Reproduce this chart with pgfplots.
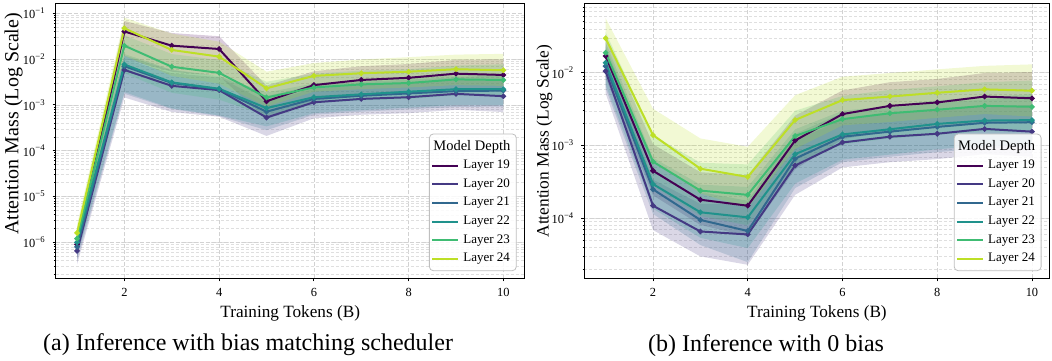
\documentclass[border=0pt]{standalone}
\usepackage{pgfplots}
\pgfplotsset{compat=1.18}
\usepackage{fontspec}
\setmainfont{Liberation Serif}

\definecolor{c19}{HTML}{440154}
\definecolor{c20}{HTML}{443983}
\definecolor{c21}{HTML}{31688E}
\definecolor{c22}{HTML}{20928C}
\definecolor{c23}{HTML}{3FBC73}
\definecolor{c24}{HTML}{BDDF26}

\pgfplotsset{
  legend image code/.code={\draw[#1, mark=none, line width=1pt] (0pt,0pt) -- (13pt,0pt);},
  band/.style={fill=#1, fill opacity=0.2, draw=none, forget plot},
  ser/.style={color=#1, line width=1pt, mark=*, mark size=0.8pt},
  every axis/.append style={
    scale only axis, height=137.2pt,
    xmin=0.55,
    xtick={2,4,6,8,10},
    grid=both,
    major grid style={gray!35, line width=0.3pt, dash pattern=on 2pt off 1pt},
    minor grid style={gray!25, line width=0.25pt, dash pattern=on 1.5pt off 1pt},
    tick align=outside, tick pos=left,
    major tick length=1.5pt, minor tick length=0.9pt,
    tick style={black, line width=0.4pt},
    axis line style={line width=0.6pt},
    /pgf/number format/assume math mode=true,
    ticklabel style={font=\fontsize{6.2}{7}\selectfont},
    xlabel={Training Tokens (B)},
    ylabel={Attention Mass (Log Scale)},
    xlabel style={font=\fontsize{8.6}{9.5}\selectfont, yshift=2.5pt},
    legend style={at={(rel axis cs:1,0)}, anchor=south east, xshift=-4pt, yshift=3.6pt,
      font=\fontsize{6.5}{7.5}\selectfont, draw=gray!50, rounded corners=2pt,
      fill=white, fill opacity=0.85, text opacity=1, draw opacity=1,
      row sep=-0.5pt, inner sep=1pt, cells={anchor=west}},
  },
}

\begin{document}
\begin{tikzpicture}
\useasboundingbox (-27.85pt,-40.85pt) rectangle (498.15pt,139.15pt);
% ================= (a) =================
\begin{axis}[ymode=log, log basis y=10, width=234.5pt, xmax=10.45, ymin=1.64e-7, ymax=0.16,
  ylabel style={font=\fontsize{10}{11}\selectfont, at={(axis description cs:-0.09,0.563)}, anchor=center},
  yticklabel={10\textsuperscript{−\pgfmathparse{int(round(-\tick))}\pgfmathresult}}]
  % bands (upper edge forward, lower edge back)
  \addplot[band=c19] coordinates {(1,1.35e-6) (2,6.8e-2) (3,3.7e-2) (4,3.15e-2) (5,2.64e-3) (6,5.4e-3) (7,7.0e-3) (8,7.8e-3) (9,9.6e-3) (10,9.9e-3)
    (10,2.03e-3) (9,2.16e-3) (8,1.76e-3) (7,1.58e-3) (6,1.22e-3) (5,4.8e-4) (4,4.3e-3) (3,5.3e-3) (2,1.0e-2) (1,4.5e-7)};
  \addplot[band=c20] coordinates {(1,9.8e-7) (2,9.9e-3) (3,4.9e-3) (4,4.0e-3) (5,1.17e-3) (6,2.28e-3) (7,2.7e-3) (8,2.94e-3) (9,3.48e-3) (10,3.4e-3)
    (10,7.0e-4) (9,7.8e-4) (8,6.6e-4) (7,6.1e-4) (6,5.1e-4) (5,2.1e-4) (4,5.5e-4) (3,7.0e-4) (2,1.45e-3) (1,3.3e-7)};
  \addplot[band=c21] coordinates {(1,1.2e-6) (2,1.19e-2) (3,5.7e-3) (4,4.2e-3) (5,1.56e-3) (6,2.7e-3) (7,3.16e-3) (8,3.56e-3) (9,4.0e-3) (10,4.5e-3)
    (10,9.2e-4) (9,9.0e-4) (8,8.0e-4) (7,7.1e-4) (6,6.1e-4) (5,2.8e-4) (4,5.7e-4) (3,8.1e-4) (2,1.75e-3) (1,4.0e-7)};
  \addplot[band=c22] coordinates {(1,1.5e-6) (2,1.29e-2) (3,5.9e-3) (4,4.3e-3) (5,1.87e-3) (6,2.94e-3) (7,3.4e-3) (8,3.88e-3) (9,4.4e-3) (10,4.8e-3)
    (10,9.9e-4) (9,9.9e-4) (8,8.7e-4) (7,7.7e-4) (6,6.6e-4) (5,3.4e-4) (4,5.9e-4) (3,8.4e-4) (2,1.9e-3) (1,5.0e-7)};
  \addplot[band=c23] coordinates {(1,1.8e-6) (2,3.3e-2) (3,1.29e-2) (4,9.5e-3) (5,3.2e-3) (6,4.8e-3) (7,5.6e-3) (8,6.0e-3) (9,7.2e-3) (10,7.7e-3)
    (10,1.58e-3) (9,1.62e-3) (8,1.35e-3) (7,1.26e-3) (6,1.08e-3) (5,5.8e-4) (4,1.3e-3) (3,1.84e-3) (2,4.9e-3) (1,6.0e-7)};
  \addplot[band=c24] coordinates {(1,2.4e-6) (2,8.0e-2) (3,3.6e-2) (4,2.4e-2) (5,5.3e-3) (6,8.2e-3) (7,9.8e-3) (8,1.1e-2) (9,1.25e-2) (10,1.3e-2)
    (10,2.6e-3) (9,2.7e-3) (8,2.4e-3) (7,2.2e-3) (6,1.94e-3) (5,9.2e-4) (4,2.9e-3) (3,4.3e-3) (2,1.18e-2) (1,8.0e-7)};
  \addlegendimage{empty legend}
  \addlegendentry{\hspace*{-15pt}{\fontsize{7.25}{8}\selectfont Model Depth}}
  \addplot[ser=c19] coordinates {(1,9.0e-7) (2,4.0e-2) (3,1.96e-2) (4,1.66e-2) (5,1.2e-3) (6,2.7e-3) (7,3.5e-3) (8,3.9e-3) (9,4.8e-3) (10,4.5e-3)};
  \addlegendentry{Layer 19}
  \addplot[ser=c20] coordinates {(1,6.5e-7) (2,5.8e-3) (3,2.6e-3) (4,2.1e-3) (5,5.3e-4) (6,1.14e-3) (7,1.35e-3) (8,1.47e-3) (9,1.74e-3) (10,1.55e-3)};
  \addlegendentry{Layer 20}
  \addplot[ser=c21] coordinates {(1,8.0e-7) (2,7.0e-3) (3,3.0e-3) (4,2.2e-3) (5,7.1e-4) (6,1.35e-3) (7,1.58e-3) (8,1.78e-3) (9,2.0e-3) (10,2.05e-3)};
  \addlegendentry{Layer 21}
  \addplot[ser=c22] coordinates {(1,1.0e-6) (2,7.6e-3) (3,3.1e-3) (4,2.25e-3) (5,8.5e-4) (6,1.47e-3) (7,1.7e-3) (8,1.94e-3) (9,2.2e-3) (10,2.2e-3)};
  \addlegendentry{Layer 22}
  \addplot[ser=c23] coordinates {(1,1.2e-6) (2,1.96e-2) (3,6.8e-3) (4,5.0e-3) (5,1.45e-3) (6,2.4e-3) (7,2.8e-3) (8,3.0e-3) (9,3.6e-3) (10,3.5e-3)};
  \addlegendentry{Layer 23}
  \addplot[ser=c24] coordinates {(1,1.6e-6) (2,4.7e-2) (3,1.58e-2) (4,1.13e-2) (5,2.3e-3) (6,4.3e-3) (7,4.9e-3) (8,5.3e-3) (9,6.0e-3) (10,5.7e-3)};
  \addlegendentry{Layer 24}
\end{axis}
% ================= (b) =================
\begin{axis}[ymode=log, log basis y=10, at={(264.3pt,0pt)}, width=232.6pt, xmax=10.37, ymin=1.5e-5, ymax=0.088,
  ylabel style={font=\fontsize{8.7}{9.5}\selectfont, at={(axis description cs:-0.0856,0.5)}, anchor=center},
  yticklabel={10\textsuperscript{−\pgfmathparse{int(round(-\tick))}\pgfmathresult}}]
  \addplot[band=c19] coordinates {(1,3.2e-2) (2,1.04e-3) (3,4.3e-4) (4,3.9e-4) (5,2.57e-3) (6,5.7e-3) (7,7.4e-3) (8,8.2e-3) (9,9.9e-3) (10,1.02e-2)
    (10,2.0e-3) (9,2.1e-3) (8,1.76e-3) (7,1.58e-3) (6,1.22e-3) (5,4.7e-4) (4,5.7e-5) (3,8.1e-5) (2,2.07e-4) (1,8.5e-3)};
  \addplot[band=c20] coordinates {(1,2.0e-2) (2,3.4e-4) (3,1.58e-4) (4,1.56e-4) (5,1.17e-3) (6,2.3e-3) (7,2.8e-3) (8,3.0e-3) (9,3.5e-3) (10,3.6e-3)
    (10,7.0e-4) (9,7.6e-4) (8,6.5e-4) (7,5.9e-4) (6,5.0e-4) (5,2.1e-4) (4,2.3e-5) (3,3.0e-5) (2,6.9e-5) (1,5.2e-3)};
  \addplot[band=c21] coordinates {(1,2.3e-2) (2,5.8e-4) (3,2.3e-4) (4,1.74e-4) (5,1.45e-3) (6,2.8e-3) (7,3.3e-3) (8,3.8e-3) (9,4.3e-3) (10,4.8e-3)
    (10,9.4e-4) (9,9.2e-4) (8,8.1e-4) (7,7.0e-4) (6,5.9e-4) (5,2.6e-4) (4,2.5e-5) (3,4.3e-5) (2,1.15e-4) (1,6.1e-3)};
  \addplot[band=c22] coordinates {(1,2.6e-2) (2,6.8e-4) (3,2.9e-4) (4,2.7e-4) (5,1.67e-3) (6,3.0e-3) (7,3.5e-3) (8,4.2e-3) (9,4.6e-3) (10,5.1e-3)
    (10,1.0e-3) (9,9.9e-4) (8,8.9e-4) (7,7.5e-4) (6,6.4e-4) (5,3.0e-4) (4,3.9e-5) (3,5.4e-5) (2,1.36e-4) (1,6.8e-3)};
  \addplot[band=c23] coordinates {(1,3.6e-2) (2,1.38e-3) (3,5.8e-4) (4,5.5e-4) (5,3.0e-3) (6,4.8e-3) (7,5.8e-3) (8,6.5e-3) (9,7.4e-3) (10,7.8e-3)
    (10,1.53e-3) (9,1.58e-3) (8,1.4e-3) (7,1.25e-3) (6,1.04e-3) (5,5.4e-4) (4,8.0e-5) (3,1.08e-4) (2,2.8e-4) (1,9.4e-3)};
  \addplot[band=c24] coordinates {(1,5.6e-2) (2,3.2e-3) (3,1.25e-3) (4,9.6e-4) (5,4.9e-3) (6,8.8e-3) (7,9.9e-3) (8,1.11e-2) (9,1.24e-2) (10,1.3e-2)
    (10,2.5e-3) (9,2.7e-3) (8,2.4e-3) (7,2.1e-3) (6,1.89e-3) (5,9.0e-4) (4,1.4e-4) (3,2.2e-4) (2,6.4e-4) (1,1.49e-2)};
  \addlegendimage{empty legend}
  \addlegendentry{\hspace*{-15pt}{\fontsize{7.25}{8}\selectfont Model Depth}}
  \addplot[ser=c19] coordinates {(1,1.70e-2) (2,4.5e-4) (3,1.8e-4) (4,1.49e-4) (5,1.17e-3) (6,2.7e-3) (7,3.5e-3) (8,3.9e-3) (9,4.7e-3) (10,4.45e-3)};
  \addlegendentry{Layer 19}
  \addplot[ser=c20] coordinates {(1,1.05e-2) (2,1.49e-4) (3,6.6e-5) (4,6.0e-5) (5,5.3e-4) (6,1.1e-3) (7,1.32e-3) (8,1.45e-3) (9,1.69e-3) (10,1.55e-3)};
  \addlegendentry{Layer 20}
  \addplot[ser=c21] coordinates {(1,1.23e-2) (2,2.5e-4) (3,9.5e-5) (4,6.7e-5) (5,6.6e-4) (6,1.32e-3) (7,1.55e-3) (8,1.8e-3) (9,2.05e-3) (10,2.09e-3)};
  \addlegendentry{Layer 21}
  \addplot[ser=c22] coordinates {(1,1.37e-2) (2,2.95e-4) (3,1.21e-4) (4,1.03e-4) (5,7.6e-4) (6,1.42e-3) (7,1.67e-3) (8,1.98e-3) (9,2.2e-3) (10,2.23e-3)};
  \addlegendentry{Layer 22}
  \addplot[ser=c23] coordinates {(1,1.88e-2) (2,6.0e-4) (3,2.4e-4) (4,2.1e-4) (5,1.35e-3) (6,2.3e-3) (7,2.77e-3) (8,3.1e-3) (9,3.5e-3) (10,3.4e-3)};
  \addlegendentry{Layer 23}
  \addplot[ser=c24] coordinates {(1,2.97e-2) (2,1.39e-3) (3,4.8e-4) (4,3.7e-4) (5,2.24e-3) (6,4.2e-3) (7,4.7e-3) (8,5.3e-3) (9,5.9e-3) (10,5.65e-3)};
  \addlegendentry{Layer 24}
\end{axis}
\node[font=\fontsize{12}{14}\selectfont] at (96.2pt,-33.4pt) {(a) Inference with bias matching scheduler};
\node[font=\fontsize{12}{14}\selectfont] at (355.2pt,-33.4pt) {(b) Inference with 0 bias};
\end{tikzpicture}
\end{document}
